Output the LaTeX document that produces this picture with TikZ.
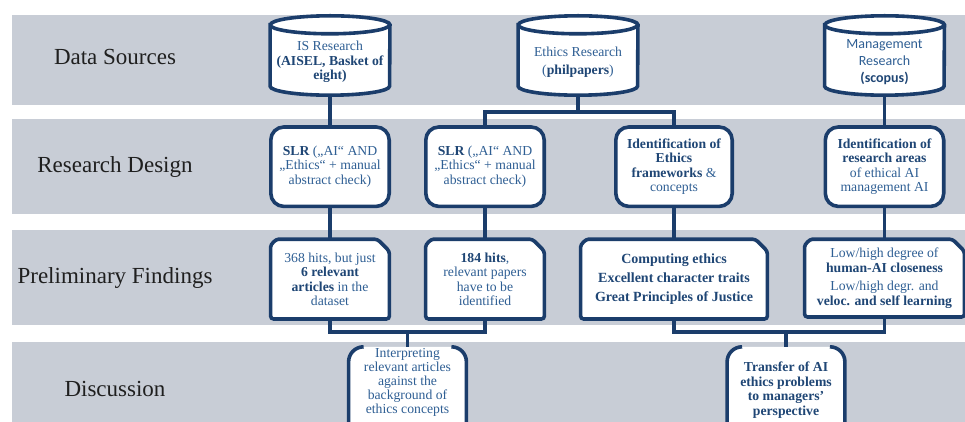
\documentclass[tikz,border=0pt]{standalone}
\usepackage{fontspec}
\setmainfont{Liberation Serif}
\newfontfamily\calfont{Carlito}
\usetikzlibrary{positioning,backgrounds}
\definecolor{band}{HTML}{C8CDD6}
\definecolor{navy}{HTML}{1B3D6B}
\definecolor{txt}{HTML}{2F5F94}
\definecolor{txtb}{HTML}{1F4675}
\newcommand{\bhl}[1]{{\bfseries\color{txtb}#1}}

\begin{document}
\begin{tikzpicture}[
  x=1pt,y=-1pt,
  line/.style={draw=navy,line width=3.6pt},
  conn/.style={navy,line width=3.6pt},
  rowlabel/.style={font=\fontsize{23}{27}\selectfont,text=black!88},
  boxtext/.style={align=center,inner sep=0pt,text=txt,font=\fontsize{13.7}{14.5}\selectfont},
  dbnode/.style={boxtext,minimum width=119.5pt,minimum height=66pt},
  designbox/.style={boxtext,line,fill=white,rounded corners=13pt,minimum width=118.4pt,minimum height=79.4pt},
  findbox/.style={boxtext,minimum width=118.4pt,minimum height=79.4pt},
  discbox/.style={boxtext,minimum width=117.4pt,minimum height=86pt}
]
  \useasboundingbox (0,0) rectangle (965,422);

  \node[rowlabel] (lsrc) at (115,57)  {Data Sources};
  \node[rowlabel] (ldes) at (115,167) {Research Design};
  \node[rowlabel] (lfnd) at (115,278) {Preliminary Findings};
  \node[rowlabel] (ldis) at (115,389) {Discussion};

  % data sources
  \node[dbnode] (isr)  at (330,62)   {IS Research\\\bhl{(AISEL, Basket of}\\\bhl{eight)}};
  \node[dbnode] (ethr) at (578,62)   {Ethics Research\\[4pt](\bhl{philpapers})};
  \node[dbnode,font=\calfont\fontsize{14}{17}\selectfont] (mgr) at (884.5,62) {Management\\Research\\\bhl{(scopus)}};

  % research design
  \node[designbox,below=30pt of isr] (slr1) {\bhl{SLR} („AI“ AND\\„Ethics“ + manual\\abstract check)};
  \node[designbox,right=33pt of slr1] (slr2) {\bhl{SLR} („AI“ AND\\„Ethics“ + manual\\abstract check)};
  \node[designbox,minimum width=116.4pt,right=68pt of slr2] (ide) {\bhl{Identification of}\\\bhl{Ethics}\\\bhl{frameworks} \&\\concepts};
  \node[designbox,below=30pt of mgr] (ida) {\bhl{Identification of}\\\bhl{research areas}\\of ethical AI\\management AI};

  % preliminary findings
  \node[findbox,below=31pt of slr1] (hits1) {368 hits, but just\\\bhl{6 relevant}\\\bhl{articles} in the\\dataset};
  \node[findbox,below=31pt of slr2] (hits2) {\bhl{184 hits},\\relevant papers\\have to be\\identified};
  \node[findbox,minimum width=186.4pt,font=\bfseries\fontsize{14}{19}\selectfont,text=txtb,below=31pt of ide] (frm) {Computing ethics\\Excellent character traits\\Great Principles of Justice};
  \node[findbox,minimum width=159.5pt,minimum height=77.4pt,below=31pt of ida] (clo) {Low/high degree of\\\bhl{human-AI closeness}\\[4pt]Low/high degr. and\\\bhl{veloc. and self learning}};

  % discussion
  \node[discbox,font=\fontsize{13.7}{14}\selectfont] (intp) at (407.5,390) {Interpreting\\relevant articles\\against the\\background of\\ethics concepts\\[4pt]};
  \node[discbox,font=\bfseries\fontsize{13.7}{14.5}\selectfont,text=txtb] (trf) at (786,390) {Transfer of AI\\ethics problems\\to managers'\\perspective};

  \begin{scope}[on background layer]
    \foreach \t/\b in {15/105,119/214,230/325,342/430}
      \fill[band] (12,\t) rectangle (965,\b);
    \foreach \n in {isr,ethr,mgr}{
      \draw[line,fill=white] ([yshift=4pt]\n.north west) -- ([yshift=9pt]\n.south west)
        arc[start angle=180,end angle=360,x radius=59.75pt,y radius=9pt]
        -- ([yshift=4pt]\n.north east)
        arc[start angle=0,end angle=180,x radius=59.75pt,y radius=9pt] -- cycle
        ([yshift=4pt]\n.north west) arc[start angle=180,end angle=360,x radius=59.75pt,y radius=9pt];
    }
    \foreach \n in {hits1,hits2,frm,clo}{
      \draw[line,fill=white,rounded corners=3pt] (\n.south west) -- ([yshift=-11pt]\n.north west)
        arc[start angle=180,end angle=90,radius=11pt] -- ([xshift=-12pt]\n.north east)
        -- ([yshift=-12pt]\n.north east) -- (\n.south east) -- cycle;
    }
    \foreach \n in {intp,trf}{
      \fill[white,rounded corners=15pt] (\n.north west) rectangle (\n.south east);
      \draw[line] ([xshift=15pt]\n.north west) arc[start angle=90,end angle=180,radius=15pt] -- (\n.south west);
      \draw[line] ([xshift=-15pt]\n.north east) arc[start angle=90,end angle=0,radius=15pt] -- (\n.south east);
    }
  \end{scope}

  \coordinate (ethj) at (578,112);
  \coordinate (fj1) at (407.5,332);
  \coordinate (fj2) at (786,332);

  \draw[conn] (isr.south) -- (slr1.north);
  \draw[conn] (mgr.south) -- (ida.north);
  \draw[conn] (ethr.south) -- (ethj);
  \draw[conn] (slr2.north) |- (ethj) -| (ide.north);
  \draw[conn] (slr1.south) -- (hits1.north);
  \draw[conn] (slr2.south) -- (hits2.north);
  \draw[conn] (ide.south) -- (frm.north);
  \draw[conn] (ida.south) -- (clo.north);
  \draw[conn] (hits1.south) |- (fj1) -| (hits2.south);
  \draw[conn] (fj1) -- (intp.north);
  \draw[conn] (frm.south) |- (fj2) -| (clo.south);
  \draw[conn] (fj2) -- (trf.north);
\end{tikzpicture}
\end{document}
